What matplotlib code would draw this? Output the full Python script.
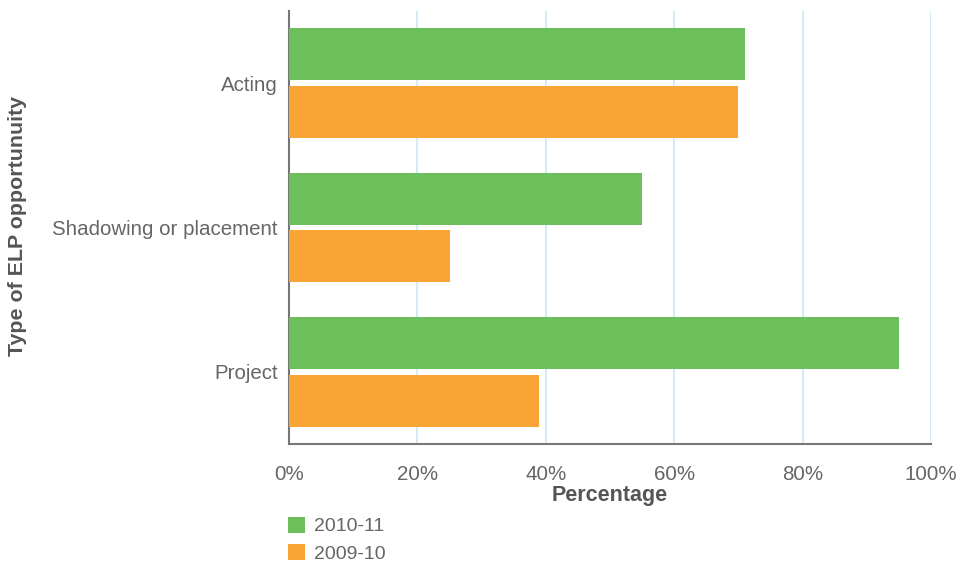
import matplotlib
matplotlib.use("Agg")
import matplotlib.pyplot as plt
import numpy as np
from matplotlib.patches import Patch

categories = ["Acting", "Shadowing or placement", "Project"]
series_names = ["2010-11", "2009-10"]
values_2010_11 = [71, 55, 95]
values_2009_10 = [70, 25, 39]
xticks = [0, 20, 40, 60, 80, 100]
xtick_labels = ["0%", "20%", "40%", "60%", "80%", "100%"]

GREEN = "#6dbf5b"
ORANGE = "#f9a535"
TXT = "#666666"
DARK = "#555555"

plt.rcParams["font.family"] = ["Liberation Sans", "DejaVu Sans"]

fig = plt.figure(figsize=(9.64, 5.65), dpi=100)
ax = fig.add_axes([289/964, 1-444/565, (931-289)/964, (444-11)/565])

y = np.arange(len(categories))
h = 0.36
ax.barh(y - 0.2, values_2010_11, height=h, color=GREEN, zorder=3)
ax.barh(y + 0.2, values_2009_10, height=h, color=ORANGE, zorder=3)

ax.set_xlim(0, 100)
ax.set_ylim(len(categories) - 0.5, -0.5)
ax.set_yticks(y)
ax.set_yticklabels(categories)
ax.set_xticks(xticks)
ax.set_xticklabels(xtick_labels)
ax.tick_params(axis="both", length=0, labelsize=14.8, labelcolor=TXT)
ax.tick_params(axis="x", pad=15)
ax.tick_params(axis="y", pad=8)

ax.grid(axis="x", color="#d4ebf8", linewidth=1.5, zorder=0)
ax.set_axisbelow(True)
for s in ["top", "right"]:
    ax.spines[s].set_visible(False)
for s in ["left", "bottom"]:
    ax.spines[s].set_color("#777777")
    ax.spines[s].set_linewidth(1.5)

fig.text(610/964, 1-495/565, "Percentage", ha="center", va="center",
         fontsize=15.5, fontweight="bold", color=DARK)
fig.text(18/964, 1-226/565, "Type of ELP opportunuity", ha="center", va="center",
         rotation=90, fontsize=15.4, fontweight="bold", color=DARK)

handles = [Patch(facecolor=GREEN, edgecolor="none"), Patch(facecolor=ORANGE, edgecolor="none")]
leg = fig.legend(handles, series_names, loc="upper left",
                 bbox_to_anchor=(274/964, 1-503/565), frameon=False,
                 fontsize=14, handlelength=0.9, handleheight=0.9,
                 handletextpad=0.45, labelspacing=0.45, borderpad=0.2)
for t in leg.get_texts():
    t.set_color(TXT)

fig.savefig("out.png", dpi=100)
